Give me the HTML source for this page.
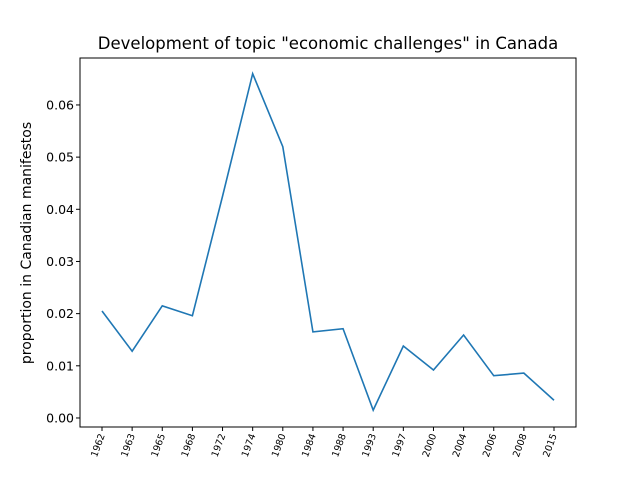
<!DOCTYPE html>
<html><head><meta charset="utf-8"><style>
body{margin:0;background:#fff;}
svg text{font-family:"DejaVu Sans","Liberation Sans",sans-serif;}
</style></head><body>
<svg id="chart" width="640" height="480" xmlns="http://www.w3.org/2000/svg">
<rect width="640" height="480" fill="#fff"/>
<text x="328" y="49" font-size="16.5" text-anchor="middle">Development of topic "economic challenges" in Canada</text>
<text transform="translate(31,243) rotate(-90)" font-size="14" text-anchor="middle">proportion in Canadian manifestos</text>
<g id="ticks"></g>
<path id="line" fill="none" stroke="#1f77b4" stroke-width="1.6"/>
<rect x="80" y="58" width="496" height="369" fill="none" stroke="#000" stroke-width="1"/>
</svg>
<script>
const categories=["1962","1963","1965","1968","1972","1974","1980","1984","1988","1993","1997","2000","2004","2006","2008","2015"];
const values=[0.0205,0.0128,0.0215,0.0196,0.0425,0.066,0.052,0.0165,0.0171,0.0015,0.0138,0.0092,0.0159,0.0081,0.0086,0.0034];
const yTicks=[0,0.01,0.02,0.03,0.04,0.05,0.06];
const yTickLabels=["0.00","0.01","0.02","0.03","0.04","0.05","0.06"];
const L=80,R=576,T=58,B=427;
const yMin=-0.00173,yMax=0.069;
const xs=i=>102+i*(554-102)/(categories.length-1);
const ys=v=>B-(v-yMin)/(yMax-yMin)*(B-T);
const NS="http://www.w3.org/2000/svg";
const g=document.getElementById('ticks');
function mk(t,a){const e=document.createElementNS(NS,t);for(const k in a)e.setAttribute(k,a[k]);g.appendChild(e);return e;}
yTicks.forEach((v,i)=>{
  const y=ys(v);
  const l=mk('line',{x1:L-4,x2:L,y1:y,y2:y,stroke:'#000'});
  
  
  const t=mk('text',{x:L-6,y:y+4.5,'font-size':'12.5','text-anchor':'end'});
  t.textContent=yTickLabels[i];
  
  
});
categories.forEach((c,i)=>{
  const x=xs(i);
  const l=mk('line',{x1:x,x2:x,y1:B,y2:B+4,stroke:'#000'});
  
  
  const t=mk('text',{transform:`translate(${x+3},${B+8}) rotate(-70)`,'font-size':'9.5','text-anchor':'end'});
  t.textContent=c;
  
  
});
document.getElementById('line').setAttribute('d',values.map((v,i)=>(i?'L':'M')+xs(i)+','+ys(v)).join(''));
</script>
</body></html>
